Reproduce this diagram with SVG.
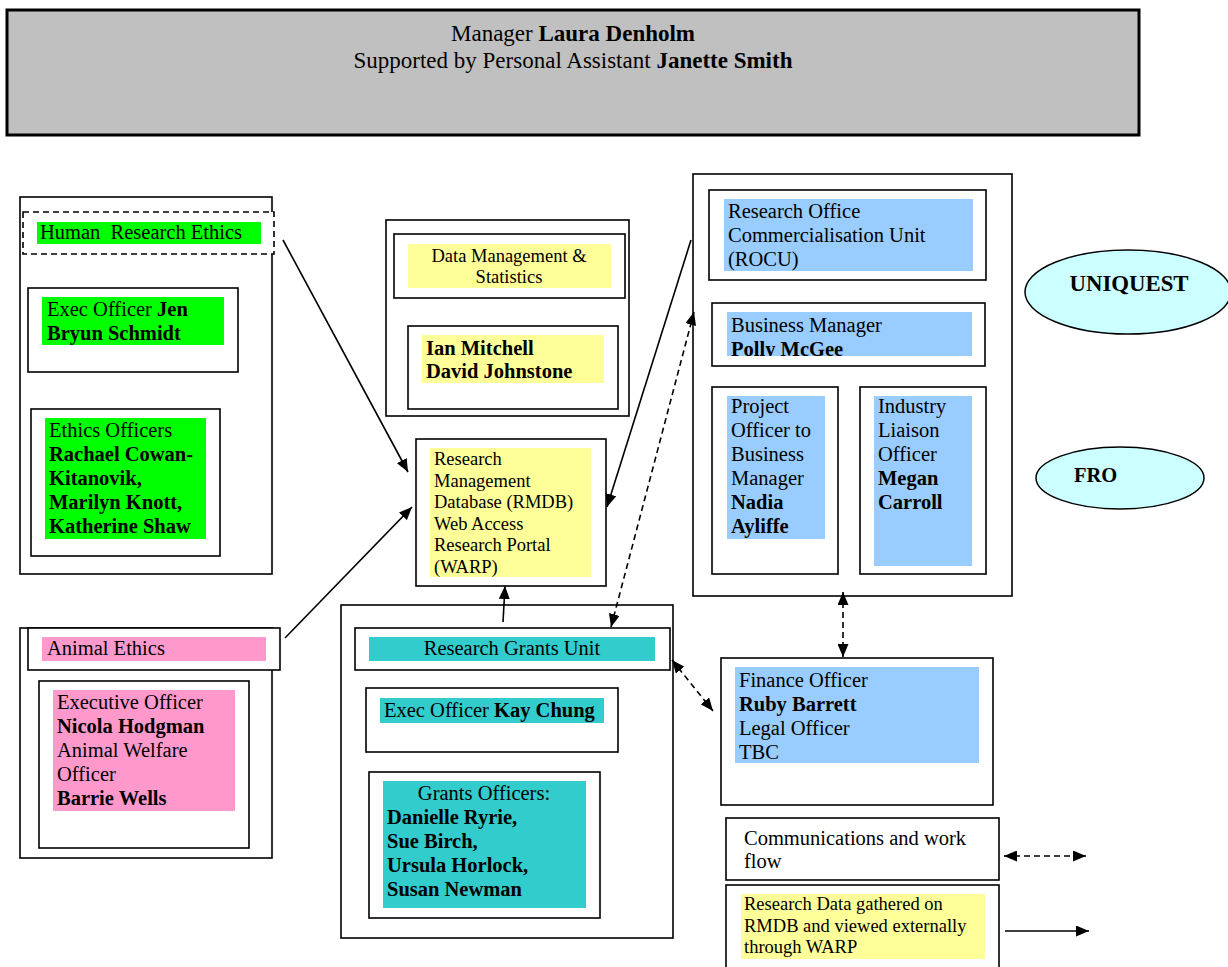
<svg xmlns="http://www.w3.org/2000/svg" width="1228" height="967" viewBox="0 0 1228 967">
<style>
text{font-family:"Liberation Serif","Times New Roman",serif;font-size:20.5px;fill:#000}
.s{font-size:18.5px}
.h{font-size:23px}
.b{font-weight:bold}
.c{text-anchor:middle}
.box{fill:#fff;stroke:#000;stroke-width:1.6}
.g{fill:#00ff00}.p{fill:#ff99cc}.y{fill:#ffff99}.tl{fill:#33cccc}.bl{fill:#99ccff}
.ell{fill:#ccffff;stroke:#000;stroke-width:1.5}
.ln{stroke:#000;stroke-width:1.6;fill:none}
.d{stroke-dasharray:6,4}
</style>
<defs>
<marker id="ah" viewBox="0 0 13 11" refX="13" refY="5.5" markerWidth="13" markerHeight="11" markerUnits="userSpaceOnUse" orient="auto-start-reverse">
<path d="M0,0 L13,5.5 L0,11 z" fill="#000"/>
</marker>
<clipPath id="pc"><rect x="727" y="312" width="245" height="44"/></clipPath>
</defs>

<g id="manager">
<rect x="7" y="10" width="1132" height="125" fill="#c0c0c0" stroke="#000" stroke-width="3"/>
<text class="c h" x="573" y="41">Manager <tspan class="b">Laura Denholm</tspan></text>
<text class="c h" x="573" y="68">Supported by Personal Assistant <tspan class="b">Janette Smith</tspan></text>
</g>

<g id="hre">
<rect class="box" x="20" y="197" width="252" height="377"/>
<rect class="box d" x="23" y="212" width="251" height="42"/>
<rect class="g" x="37" y="222" width="224" height="22"/>
<text x="40" y="239" xml:space="preserve">Human  Research Ethics</text>
<rect class="box" x="28" y="288" width="210" height="84"/>
<rect class="g" x="42" y="297" width="182" height="48"/>
<text x="47" y="316">Exec Officer <tspan class="b">Jen</tspan></text>
<text class="b" x="47" y="340">Bryun Schmidt</text>
<rect class="box" x="31" y="409" width="189" height="147"/>
<rect class="g" x="45" y="418" width="161" height="121"/>
<text x="49" y="437">Ethics Officers</text>
<text class="b" x="49" y="461">Rachael Cowan-</text>
<text class="b" x="49" y="485">Kitanovik,</text>
<text class="b" x="49" y="509">Marilyn Knott,</text>
<text class="b" x="49" y="533">Katherine Shaw</text>
</g>

<g id="ae">
<rect class="box" x="20" y="628" width="252" height="230"/>
<rect class="box" x="28" y="628" width="252" height="42"/>
<rect class="p" x="42" y="637" width="224" height="24"/>
<text x="47" y="655">Animal Ethics</text>
<rect class="box" x="39" y="681" width="210" height="167"/>
<rect class="p" x="53" y="690" width="182" height="121"/>
<text x="57" y="709">Executive Officer</text>
<text class="b" x="57" y="733">Nicola Hodgman</text>
<text x="57" y="757">Animal Welfare</text>
<text x="57" y="781">Officer</text>
<text class="b" x="57" y="805">Barrie Wells</text>
</g>

<g id="dms">
<rect class="box" x="386" y="220" width="243" height="196"/>
<rect class="box" x="394" y="234" width="231" height="64"/>
<rect class="y" x="408" y="244" width="203" height="44"/>
<text class="s c" x="509" y="262">Data Management &amp;</text>
<text class="s c" x="509" y="283">Statistics</text>
<rect class="box" x="408" y="326" width="210" height="83"/>
<rect class="y" x="422" y="335" width="182" height="48"/>
<text class="b" x="426" y="355">Ian Mitchell</text>
<text class="b" x="426" y="378">David Johnstone</text>
</g>

<g id="rmdb">
<rect class="box" x="416" y="439" width="190" height="147"/>
<rect class="y" x="430" y="448" width="161" height="129"/>
<text class="s" x="434" y="465">Research</text>
<text class="s" x="434" y="486.5">Management</text>
<text class="s" x="434" y="508">Database (RMDB)</text>
<text class="s" x="434" y="529.5">Web Access</text>
<text class="s" x="434" y="551">Research Portal</text>
<text class="s" x="434" y="572.5">(WARP)</text>
</g>

<g id="rgu">
<rect class="box" x="341" y="605" width="332" height="333"/>
<rect class="box" x="355" y="628" width="315" height="42"/>
<rect class="tl" x="369" y="637" width="286" height="24"/>
<text class="c" x="512" y="655">Research Grants Unit</text>
<rect class="box" x="366" y="688" width="252" height="64"/>
<rect class="tl" x="380" y="698" width="224" height="25"/>
<text x="384" y="717">Exec Officer <tspan class="b">Kay Chung</tspan></text>
<rect class="box" x="369" y="772" width="231" height="146"/>
<rect class="tl" x="383" y="781" width="203" height="127"/>
<text class="c" x="484" y="800">Grants Officers:</text>
<text class="b" x="387" y="824">Danielle Ryrie,</text>
<text class="b" x="387" y="848">Sue Birch,</text>
<text class="b" x="387" y="872">Ursula Horlock,</text>
<text class="b" x="387" y="896">Susan Newman</text>
</g>

<g id="rocu">
<rect class="box" x="693" y="174" width="319" height="422"/>
<rect class="box" x="709" y="190" width="277" height="90"/>
<rect class="bl" x="724" y="199" width="249" height="72"/>
<text x="728" y="218">Research Office</text>
<text x="728" y="242">Commercialisation Unit</text>
<text x="728" y="266">(ROCU)</text>
<rect class="box" x="712" y="303" width="273" height="63"/>
<rect class="bl" x="727" y="312" width="245" height="44"/>
<text x="731" y="332">Business Manager</text>
<text class="b" x="731" y="356" clip-path="url(#pc)">Polly McGee</text>
<rect class="box" x="712" y="387" width="126" height="187"/>
<rect class="bl" x="727" y="396" width="98" height="143"/>
<text x="731" y="413">Project</text>
<text x="731" y="437">Officer to</text>
<text x="731" y="461">Business</text>
<text x="731" y="485">Manager</text>
<text class="b" x="731" y="509">Nadia</text>
<text class="b" x="731" y="533">Ayliffe</text>
<rect class="box" x="860" y="387" width="126" height="187"/>
<rect class="bl" x="874" y="396" width="98" height="170"/>
<text x="878" y="413">Industry</text>
<text x="878" y="437">Liaison</text>
<text x="878" y="461">Officer</text>
<text class="b" x="878" y="485">Megan</text>
<text class="b" x="878" y="509">Carroll</text>
</g>

<g id="uniquest">
<ellipse class="ell" cx="1128" cy="292" rx="103" ry="42"/>
<text class="b c" x="1129" y="291" style="font-size:22.8px">UNIQUEST</text>
</g>

<g id="fro">
<ellipse class="ell" cx="1120" cy="478" rx="84" ry="31"/>
<text class="b" x="1074" y="482">FRO</text>
</g>

<g id="finance">
<rect class="box" x="721" y="658" width="272" height="147"/>
<rect class="bl" x="735" y="667" width="244" height="96"/>
<text x="739" y="687">Finance Officer</text>
<text class="b" x="739" y="711">Ruby Barrett</text>
<text x="739" y="735">Legal Officer</text>
<text x="739" y="759">TBC</text>
</g>

<g id="legend-comm">
<rect class="box" x="726" y="818" width="273" height="62"/>
<text x="744" y="845">Communications and work</text>
<text x="744" y="868">flow</text>
</g>

<g id="legend-data">
<rect class="box" x="726" y="885" width="273" height="95"/>
<rect class="y" x="741" y="894" width="244" height="65"/>
<text class="s" x="744" y="910">Research Data gathered on</text>
<text class="s" x="744" y="931.5">RMDB and viewed externally</text>
<text class="s" x="744" y="953">through WARP</text>
</g>

<g id="connectors">
<line class="ln" x1="283" y1="240" x2="408" y2="472" marker-end="url(#ah)"/>
<line class="ln" x1="285" y1="638" x2="412" y2="507" marker-end="url(#ah)"/>
<line class="ln" x1="691" y1="240" x2="607" y2="507" marker-end="url(#ah)"/>
<line class="ln d" x1="611" y1="627" x2="694" y2="312" marker-start="url(#ah)" marker-end="url(#ah)"/>
<line class="ln" x1="503" y1="622" x2="505" y2="586" marker-end="url(#ah)"/>
<line class="ln d" x1="672" y1="660" x2="713" y2="711" marker-start="url(#ah)" marker-end="url(#ah)"/>
<line class="ln d" x1="843" y1="592" x2="843" y2="657" marker-start="url(#ah)" marker-end="url(#ah)"/>
<line class="ln d" x1="1004" y1="856" x2="1086" y2="856" marker-start="url(#ah)" marker-end="url(#ah)"/>
<line class="ln" x1="1005" y1="931" x2="1089" y2="931" marker-end="url(#ah)"/>
</g>
</svg>
